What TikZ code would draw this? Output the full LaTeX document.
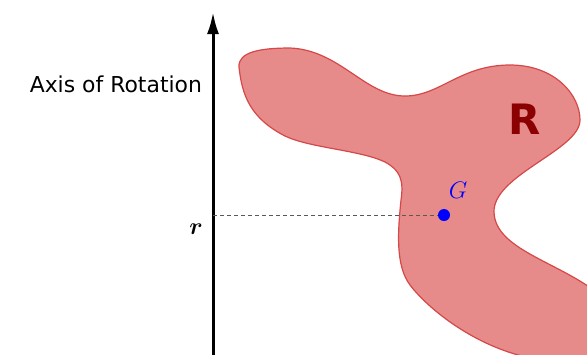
\documentclass[tikz,border=0pt]{standalone}
\usepackage{amsmath,amssymb}
\usepackage{fontspec}
\usepackage{tikz}
\usetikzlibrary{arrows.meta, positioning}
\newfontfamily\axisfont{DejaVu Sans}
\definecolor{blobfill}{RGB}{230,138,138}
\definecolor{blobedge}{RGB}{214,72,72}
\definecolor{labelred}{RGB}{139,0,0}

\begin{document}
\begin{tikzpicture}[x=0.5bp, y=-0.5bp,
				>={Latex[length=11bp,width=6bp]},   %arrow tips
				blob/.style={fill=blobfill, draw=blobedge, line width=0.6bp},
				axisline/.style={line width=1.5bp},
				gdot/.style={circle, fill=blue, inner sep=0pt, minimum size=6bp},
				helper/.style={dashed, dash pattern=on 2bp off 1.5bp, gray!70!black, line width=0.4bp}]
				% Bildbereich
				\useasboundingbox (0,0) rectangle (587,354);
				\clip (0,0) rectangle (587,354);
				% Region R
				\draw[blob] (239,67) .. controls (238,52) and (260,48) .. (290,48)
					.. controls (340,50) and (365,96) .. (405,96)
					.. controls (440,96) and (460,65) .. (510,65)
					.. controls (555,65) and (580,95) .. (580,120)
					.. controls (580,150) and (493,175) .. (494,212)
					.. controls (495,250) and (560,262) .. (600,295)
					-- (640,380) -- (530,358)
					.. controls (470,345) and (425,305) .. (410,285)
					.. controls (395,265) and (398,230) .. (401,200)
					.. controls (404,180) and (400,170) .. (385,162)
					.. controls (360,150) and (310,148) .. (285,136)
					.. controls (250,118) and (242,95) .. cycle;
				\node[text=labelred, font=\axisfont\bfseries\fontsize{21}{24}\selectfont] (R) at (525,119) {R};
				% Achse
				\coordinate (base) at (213,360);
				\coordinate (tip) at (213,12);
				\draw[->, axisline] (base) -- (tip);
				\node[anchor=east, font=\axisfont\fontsize{11}{13}\selectfont] (axislabel) at (209,84) {Axis of Rotation};
				% Schwerpunkt G
				\node[gdot] (G) at (444,215) {};
				\node[text=blue, font=\fontsize{12.5}{14}\selectfont] (Glabel) at (458,190) {$G$};
				\coordinate (r) at (213,215);
				\draw[helper] (r) -- (G);
				\node[font=\fontsize{12.5}{14}\selectfont] (rlabel) at (196,229) {$\boldsymbol{r}$};
			\end{tikzpicture}
\end{document}
